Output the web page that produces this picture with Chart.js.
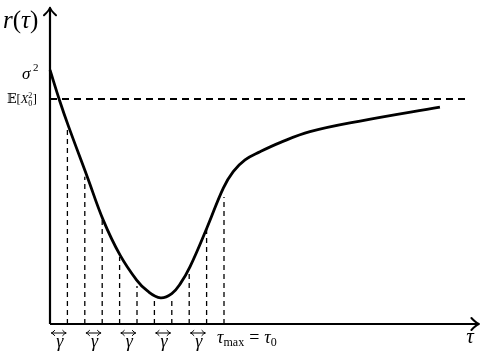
<!DOCTYPE html>
<html>
<head>
<meta charset="utf-8">
<script src="https://cdn.jsdelivr.net/npm/chart.js@4"></script>
<style>
html,body{margin:0;padding:0;background:#fff;}
canvas{display:block;}
</style>
</head>
<body>
<canvas id="c" width="491" height="359"></canvas>
<script>
// ---- data (tau in units of gamma, r normalised so sigma^2 = 1) ----
const curveTau = [0, 0.56, 1.07, 2.14, 3.06, 4.02, 4.98, 5.6, 6.35, 7.0, 7.5, 8.05, 9.01, 9.96, 10.53, 11.21, 12.07, 13.22, 14.94, 17.82, 22.41];
const curveR   = [1.0, 0.878, 0.777, 0.580, 0.409, 0.272, 0.173, 0.130, 0.103, 0.120, 0.160, 0.226, 0.377, 0.535, 0.600, 0.646, 0.678, 0.714, 0.757, 0.799, 0.854];
const gridTau  = [1, 2, 3, 4, 5, 6, 7, 8, 9, 10];
const gridTop  = [0.777, 0.58, 0.409, 0.264, 0.15, 0.102, 0.105, 0.22, 0.378, 0.5];
const sigma2 = 1.0;
const ex02 = 0.886;
const hLineEnd = 24.0;
const xAxisEnd = 24.65;
const yAxisEnd = 1.245;
const gammaSpans = [[0, 1], [2, 3], [4, 5], [6, 7], [8, 9]];
const tauMaxAt = 9.6;

const black = '#000';
const datasets = [];
datasets.push({
  data: curveTau.map((t, i) => ({x: t, y: curveR[i]})),
  showLine: true, borderColor: black, borderWidth: 2.8, pointRadius: 0,
  tension: 0.4, fill: false, clip: false, order: 0
});
datasets.push({
  data: [{x: 0, y: ex02}, {x: hLineEnd, y: ex02}],
  showLine: true, borderColor: black, borderWidth: 2, borderDash: [7, 5],
  pointRadius: 0, clip: false, order: 2
});
gridTau.forEach((t, i) => {
  datasets.push({
    data: [{x: t, y: 0}, {x: t, y: gridTop[i]}],
    showLine: true, borderColor: black, borderWidth: 1.3, borderDash: [5, 4],
    pointRadius: 0, clip: false, order: 3
  });
});
datasets.push({
  data: [{x: 0, y: 0}, {x: xAxisEnd, y: 0}],
  showLine: true, borderColor: black, borderWidth: 2.2, pointRadius: 0, clip: false, order: 1
});
datasets.push({
  data: [{x: 0, y: 0}, {x: 0, y: yAxisEnd}],
  showLine: true, borderColor: black, borderWidth: 2.2, pointRadius: 0, clip: false, order: 1
});

function arrowHead(ctx, x, y, dir, size, lw) {
  ctx.save();
  ctx.strokeStyle = black; ctx.lineWidth = lw; ctx.lineCap = 'round';
  ctx.beginPath();
  if (dir === 'right') {
    ctx.moveTo(x - size, y - size * 0.8); ctx.quadraticCurveTo(x - size * 0.4, y - size * 0.15, x, y);
    ctx.moveTo(x - size, y + size * 0.8); ctx.quadraticCurveTo(x - size * 0.4, y + size * 0.15, x, y);
  } else if (dir === 'left') {
    ctx.moveTo(x + size, y - size * 0.8); ctx.quadraticCurveTo(x + size * 0.4, y - size * 0.15, x, y);
    ctx.moveTo(x + size, y + size * 0.8); ctx.quadraticCurveTo(x + size * 0.4, y + size * 0.15, x, y);
  } else {
    ctx.moveTo(x - size * 0.8, y + size); ctx.quadraticCurveTo(x - size * 0.15, y + size * 0.4, x, y);
    ctx.moveTo(x + size * 0.8, y + size); ctx.quadraticCurveTo(x + size * 0.15, y + size * 0.4, x, y);
  }
  ctx.stroke();
  ctx.restore();
}

const serif = '"Liberation Serif", "DejaVu Serif", serif';

function drawRuns(ctx, x, y, runs) {
  let cx = x;
  runs.forEach(r => {
    ctx.font = (r[2] ? 'italic ' : '') + r[1] + 'px ' + serif;
    ctx.fillText(r[0], cx, y + (r[3] || 0));
    cx += ctx.measureText(r[0]).width;
  });
  return cx;
}

const decor = {
  id: 'decor',
  afterDatasetsDraw(chart) {
    const ctx = chart.ctx;
    const xs = chart.scales.x, ys = chart.scales.y;
    const X = v => xs.getPixelForValue(v), Y = v => ys.getPixelForValue(v);
    arrowHead(ctx, X(xAxisEnd), Y(0), 'right', 7.5, 2);
    arrowHead(ctx, X(0), Y(yAxisEnd), 'up', 7.5, 2);
    ctx.save();
    ctx.fillStyle = black;
    ctx.textBaseline = 'alphabetic';
    // r(tau)
    drawRuns(ctx, X(0) - 47, Y(yAxisEnd) + 20, [['r', 25, true], ['(', 25, false], ['τ', 25, true], [')', 25, false]]);
    // sigma^2
    drawRuns(ctx, X(0) - 28, Y(sigma2) + 9, [['σ', 17, true]]);
    ctx.font = '11px ' + serif;
    ctx.fillText('2', X(0) - 17, Y(sigma2) + 1);
    // E[X0^2]
    let ex = X(0) - 43, ey = Y(ex02) + 4.5;
    let cx = drawRuns(ctx, ex, ey, [['𝔼', 12.5, false], ['[', 12.5, false], ['X', 12.5, true]]);
    ctx.font = '8px ' + serif;
    ctx.fillText('0', cx, ey + 2.5);
    ctx.fillText('2', cx, ey - 5.5);
    ctx.font = '12.5px ' + serif;
    ctx.fillText(']', cx + 4.5, ey);
    // gamma spans
    gammaSpans.forEach(s => {
      const x0 = X(s[0]) + 1.5, x1 = X(s[1]) - 1.5, yy = Y(0) + 9;
      ctx.save();
      ctx.strokeStyle = black; ctx.lineWidth = 1;
      ctx.beginPath(); ctx.moveTo(x0, yy); ctx.lineTo(x1, yy); ctx.stroke();
      ctx.restore();
      arrowHead(ctx, x1, yy, 'right', 3.2, 1);
      arrowHead(ctx, x0, yy, 'left', 3.2, 1);
      ctx.font = 'italic 18px ' + serif;
      ctx.textAlign = 'center';
      ctx.fillText('γ', (X(s[0]) + X(s[1])) / 2 + 1, Y(0) + 23);
      ctx.textAlign = 'left';
    });
    // tau_max = tau_0
    const tx = X(tauMaxAt), ty = Y(0) + 19;
    ctx.font = 'italic 18px ' + serif;
    ctx.fillText('τ', tx, ty);
    cx = tx + ctx.measureText('τ').width;
    ctx.font = '12px ' + serif;
    ctx.fillText('max', cx, ty + 3);
    cx += ctx.measureText('max').width + 5;
    ctx.font = '18px ' + serif;
    ctx.fillText('=', cx, ty);
    cx += ctx.measureText('=').width + 5;
    ctx.font = 'italic 18px ' + serif;
    ctx.fillText('τ', cx, ty);
    cx += ctx.measureText('τ').width;
    ctx.font = '12px ' + serif;
    ctx.fillText('0', cx, ty + 3);
    // tau axis label
    ctx.font = 'italic 21px ' + serif;
    ctx.textAlign = 'center';
    ctx.fillText('τ', X(xAxisEnd) - 9, Y(0) + 19);
    ctx.restore();
  }
};

new Chart(document.getElementById('c'), {
  type: 'scatter',
  data: {datasets},
  options: {
    responsive: false,
    animation: false,
    events: [],
    layout: {padding: {left: 15.2, right: 6, top: 6.5, bottom: 9.6}},
    plugins: {legend: {display: false}, tooltip: {enabled: false}},
    scales: {
      x: {type: 'linear', min: -2, max: 25, display: false},
      y: {type: 'linear', min: -0.1, max: 1.25, display: false}
    }
  },
  plugins: [decor]
});
</script>
</body>
</html>
